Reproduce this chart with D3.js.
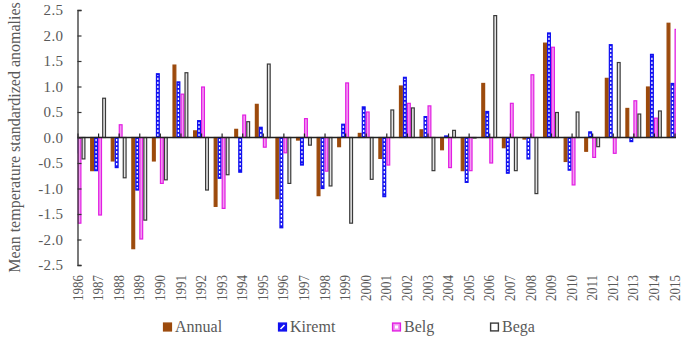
<!DOCTYPE html>
<html lang="en">
<head>
<meta charset="UTF-8">
<title>Mean temperature standardized anomalies</title>
<script src="https://d3js.org/d3.v7.min.js"></script>
<style>
    body { margin: 0; background: #fff; }
    svg { display: block; font-family: "Liberation Serif", "DejaVu Serif", serif; }
    .tick text { fill: #595959; }
</style>
</head>
<body>
<svg id="chart" width="685" height="339"></svg>
<script>
// categories
const years = [1986, 1987, 1988, 1989, 1990, 1991, 1992, 1993, 1994, 1995,
               1996, 1997, 1998, 1999, 2000, 2001, 2002, 2003, 2004, 2005,
               2006, 2007, 2008, 2009, 2010, 2011, 2012, 2013, 2014, 2015];

// series values
const annual = [-0.50, -0.65, -0.46, -2.18, -0.46, 1.42, 0.13, -1.35, 0.16, 0.65,
                -1.20, -0.05, -1.14, -0.18, 0.08, -0.41, 1.01, 0.15, -0.24, -0.65,
                1.06, -0.20, -0.03, 1.85, -0.47, -0.27, 1.16, 0.57, 0.99, 2.24];
const kiremt = [-0.30, -0.65, -0.59, -1.03, 1.25, 1.09, 0.33, -0.80, -0.68, 0.20,
                -1.77, -0.54, -1.00, 0.26, 0.60, -1.16, 1.18, 0.41, 0.03, -0.88,
                0.51, -0.70, -0.42, 2.05, -0.64, 0.11, 1.82, -0.08, 1.63, 1.06];
const belg   = [-1.68, -1.52, 0.25, -1.99, -0.90, 0.85, 0.99, -1.39, 0.44, -0.19,
                -0.30, 0.37, -0.66, 1.07, 0.50, -0.54, 0.67, 0.62, -0.59, -0.65,
                -0.50, 0.67, 1.23, 1.77, -0.93, -0.39, -0.31, 0.72, 0.38, 2.12];
const bega   = [-0.42, 0.77, -0.79, -1.62, -0.83, 1.27, -1.03, -0.73, 0.31, 1.44,
                -0.90, -0.15, -0.95, -1.68, -0.82, 0.54, 0.58, -0.65, 0.14, -0.01,
                2.39, -0.65, -1.10, 0.49, 0.50, -0.18, 1.47, 0.46, 0.52, 0.50];

const seriesNames = ["Annual", "Kiremt", "Belg", "Bega"];
const yTicks = [-2.5, -2.0, -1.5, -1.0, -0.5, 0.0, 0.5, 1.0, 1.5, 2.0, 2.5];

const series = [
    { name: "Annual", values: annual, fill: "#9C4A0C", stroke: "#9C4A0C" },
    { name: "Kiremt", values: kiremt, fill: "#1010F0", stroke: "#1010F0" },
    { name: "Belg",   values: belg,   fill: "#F29AF2", stroke: "#E21EE2" },
    { name: "Bega",   values: bega,   fill: "#E4E4E4", stroke: "#3A3A3A" }
];

// layout
const axisX = 77.5, lastX = 674.5, plotRight = 676;
const plotTop = 10, plotBottom = 265;
const groupWidth = 16;

const svg = d3.select("#chart");

const x = d3.scalePoint().domain(years).range([axisX, lastX]);
const sub = d3.scaleBand().domain(seriesNames).range([-groupWidth / 2, groupWidth / 2]);
const y = d3.scaleLinear().domain([-2.5, 2.5]).range([plotBottom, plotTop]);

svg.append("clipPath").attr("id", "plotClip")
    .append("rect")
    .attr("x", axisX).attr("y", 0)
    .attr("width", plotRight - axisX).attr("height", 339);

const barsG = svg.append("g").attr("clip-path", "url(#plotClip)");
const sw = 1.2;

series.forEach(s => {
    const g = barsG.append("g");
    const rows = years.map((yr, i) => ({ year: yr, v: s.values[i] }));

    g.selectAll("rect")
        .data(rows)
        .enter().append("rect")
        .attr("x", d => x(d.year) + sub(s.name) + sw / 2)
        .attr("width", sub.bandwidth() - sw)
        .attr("y", d => Math.min(y(d.v), y(0)))
        .attr("height", d => Math.abs(y(d.v) - y(0)))
        .attr("fill", s.fill)
        .attr("stroke", s.stroke)
        .attr("stroke-width", sw);

    // Kiremt bars carry a white dashed line down the middle
    if (s.name === "Kiremt") {
        g.selectAll("line")
            .data(rows.filter(d => Math.abs(y(d.v) - y(0)) > 4))
            .enter().append("line")
            .attr("x1", d => x(d.year) + sub(s.name) + sub.bandwidth() / 2)
            .attr("x2", d => x(d.year) + sub(s.name) + sub.bandwidth() / 2)
            .attr("y1", d => y(0) + (d.v < 0 ? 1.5 : -1.5))
            .attr("y2", d => y(d.v) + (d.v < 0 ? -1.5 : 1.5))
            .attr("stroke", "#ffffff")
            .attr("stroke-width", 1.3)
            .attr("stroke-dasharray", "2.2,1.8");
    }
});

// zero line with small upward ticks
const zeroAxis = svg.append("g")
    .attr("transform", `translate(0,${y(0)})`)
    .call(d3.axisBottom(x).tickSizeInner(-4).tickSizeOuter(0).tickFormat(""));
zeroAxis.select(".domain").remove();
zeroAxis.selectAll(".tick line").attr("stroke", "#222").attr("stroke-width", 1.2);
zeroAxis.append("line")
    .attr("x1", axisX).attr("x2", plotRight)
    .attr("stroke", "#222").attr("stroke-width", 1.3);

// y axis
const yAxis = svg.append("g")
    .attr("transform", `translate(${axisX},0)`)
    .call(d3.axisLeft(y)
        .tickValues(yTicks)
        .tickFormat(d => d.toFixed(1))
        .tickSizeInner(-4)
        .tickSizeOuter(-4)
        .tickPadding(14));
yAxis.select(".domain").attr("stroke", "#333").attr("stroke-width", 1.3);
yAxis.selectAll(".tick line").attr("stroke", "#333").attr("stroke-width", 1.2);
yAxis.selectAll(".tick text")
    .attr("font-size", "15px")
    .attr("letter-spacing", "0.4px")
    .attr("font-family", "Liberation Serif, serif");

// year labels, rotated
svg.append("g").selectAll("text")
    .data(years)
    .enter().append("text")
    .attr("transform", d => `translate(${x(d)},275) rotate(-90) scale(1,1.12)`)
    .attr("text-anchor", "end")
    .attr("dy", "0.35em")
    .attr("font-size", "13px")
    .attr("fill", "#595959")
    .text(d => d);

// y axis title
svg.append("text")
    .attr("transform", `translate(14,${y(0)}) rotate(-90)`)
    .attr("text-anchor", "middle")
    .attr("dy", "0.35em")
    .attr("font-size", "16px")
    .attr("fill", "#595959")
    .text("Mean temperature standardized anomalies");

// legend
const legendX = [163, 278, 392, 490];
const legend = svg.append("g");
series.forEach((s, i) => {
    const lg = legend.append("g").attr("transform", `translate(${legendX[i]},322.5)`);
    lg.append("rect")
        .attr("x", 0.6).attr("y", 0.6)
        .attr("width", 7.8).attr("height", 7.8)
        .attr("fill", s.name === "Bega" ? "#ffffff" : s.fill)
        .attr("stroke", s.stroke)
        .attr("stroke-width", 1.4);
    if (s.name === "Kiremt") {
        lg.append("line")
            .attr("x1", 2.5).attr("y1", 6.5).attr("x2", 6.5).attr("y2", 2.5)
            .attr("stroke", "#fff").attr("stroke-width", 1.6);
    }
    if (s.name === "Belg") {
        lg.append("rect")
            .attr("x", 3).attr("y", 3).attr("width", 3).attr("height", 3)
            .attr("fill", "#fff");
    }
    lg.append("text")
        .attr("x", 12)
        .attr("y", 9.2)
        .attr("font-size", "16px")
        .attr("fill", "#595959")
        .text(s.name);
});
</script>
</body>
</html>
